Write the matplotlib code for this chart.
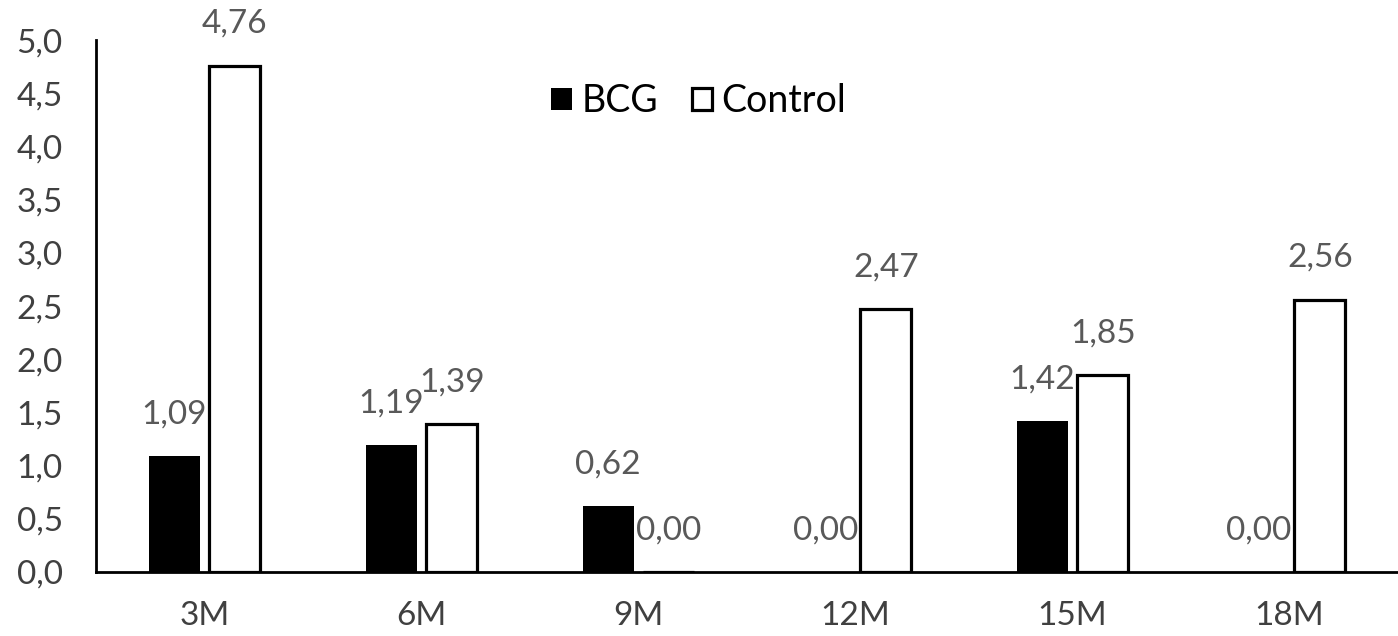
import numpy as np
import matplotlib.pyplot as plt

categories = ['3M', '6M', '9M', '12M', '15M', '18M']
bcg = [1.09, 1.19, 0.62, 0.00, 1.42, 0.00]
control = [4.76, 1.39, 0.00, 2.47, 1.85, 2.56]
yticks = [0.0, 0.5, 1.0, 1.5, 2.0, 2.5, 3.0, 3.5, 4.0, 4.5, 5.0]

plt.rcParams['font.family'] = ['Lato', 'DejaVu Sans']

fig = plt.figure(figsize=(13.98, 6.36), dpi=100)
ax = fig.add_axes([0.0687, 0.1006, 0.9313, 0.8364])

x = np.arange(len(categories))
w = 0.235
off = 0.14
b1 = ax.bar(x - off, bcg, w, color='black', edgecolor='black', linewidth=0, label='BCG')
b2 = ax.bar(x + off, control, w, color='white', edgecolor='black', linewidth=2.3, label='Control')

def fmt(v):
    return f'{v:.2f}'.replace('.', ',')

for bars, vals in [(b1, bcg), (b2, control)]:
    for rect, v in zip(bars, vals):
        ax.annotate(fmt(v), (rect.get_x() + rect.get_width() / 2, v),
                    xytext=(0, 30), textcoords='offset points',
                    ha='center', va='center', fontsize=24, color='#595959')

ax.set_xlim(-0.5, 5.5)
ax.set_ylim(0, 5.0)
ax.set_yticks(yticks)
ax.set_yticklabels([f'{t:.1f}'.replace('.', ',') for t in yticks])
ax.set_xticks(x)
ax.set_xticklabels(categories)
ax.tick_params(axis='y', length=0, pad=24, labelsize=24, labelcolor='#404040')
ax.tick_params(axis='x', length=0, pad=21, labelsize=24, labelcolor='#404040')

for s in ['top', 'right']:
    ax.spines[s].set_visible(False)
ax.spines['left'].set_linewidth(2)
ax.spines['bottom'].set_linewidth(2)

ax.legend(loc='center', bbox_to_anchor=(0.463, 0.885), ncol=2, frameon=False,
          fontsize=27, handlelength=0.55, handleheight=0.55, handletextpad=0.25,
          columnspacing=0.9)

fig.savefig('out.png', dpi=100)
